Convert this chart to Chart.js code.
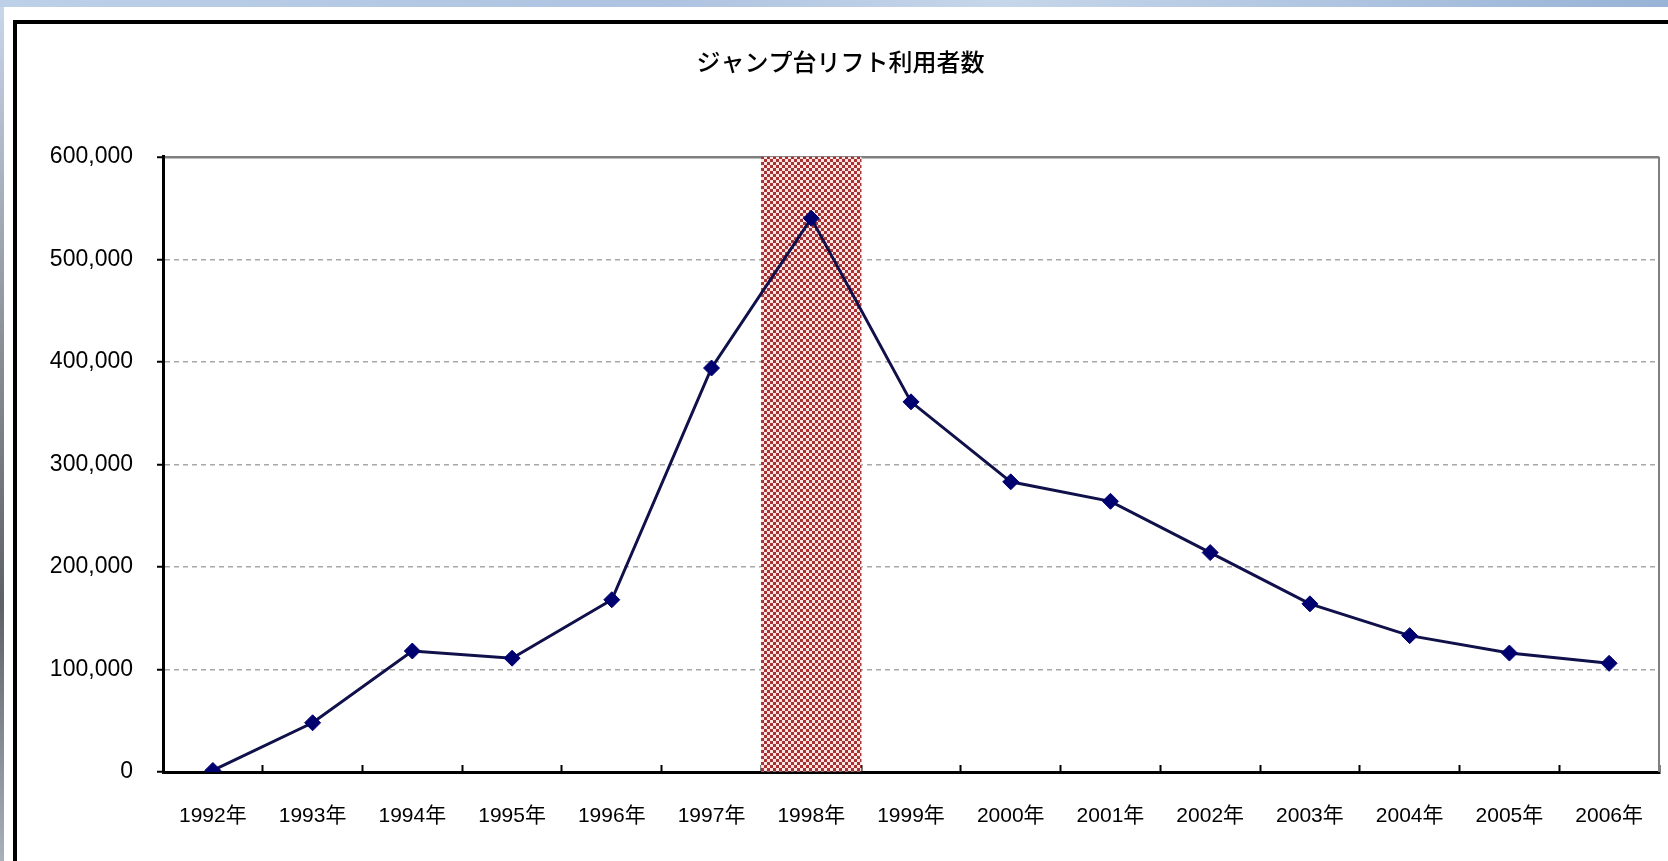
<!DOCTYPE html>
<html>
<head>
<meta charset="utf-8">
<title>ジャンプ台リフト利用者数</title>
<script src="https://cdn.jsdelivr.net/npm/chart.js@4.4.0/dist/chart.umd.min.js"></script>
<style>
	html, body { margin: 0; padding: 0; background: #ffffff; overflow: hidden; }
	#top-strip { position: absolute; left: 0; top: 0; width: 1668px; height: 7px; background: linear-gradient(to right, #bcd0e8, #aec3e0 40%, #c6d6ea 60%, #98b3d6); }
	#left-strip { position: absolute; left: 0; top: 7px; width: 4px; height: 854px; background: linear-gradient(to bottom, #c8d6ea, #8a8f96 40%, #5e6166 70%, #a8b0bc); }
	#frame { position: absolute; left: 13px; top: 20px; width: 1655px; height: 841px; border-top: 4px solid #000; border-left: 4px solid #000; background: #fff; }
	#chart-holder { position: absolute; left: 0; top: 0; width: 1651px; height: 837px; }
</style>
</head>
<body>
<div id="top-strip"></div>
<div id="left-strip"></div>
<div id="frame">
	<div id="chart-holder"><canvas id="chart"></canvas></div>
</div>
<script>

let chartTitle = "ジャンプ台リフト利用者数";

let years = ["1992年", "1993年", "1994年", "1995年", "1996年", "1997年", "1998年", "1999年",
	"2000年", "2001年", "2002年", "2003年", "2004年", "2005年", "2006年"];

let riders = [1500, 48000, 118000, 111000, 168000, 394000, 540000, 361000,
	283000, 264000, 214000, 164000, 133000, 116000, 106000];

let highlightYear = "1998年";

let yTicks = [0, 100000, 200000, 300000, 400000, 500000, 600000];

let yMax = yTicks[yTicks.length - 1];

// band over the highlighted year, full height of the value axis
let bandValues = years.map(function(y) { return y == highlightYear ? yMax : null; });

// small red checker pattern for the band
function makePattern() {

	let tile = document.createElement("canvas");
	tile.width = 6;
	tile.height = 6;
	let c = tile.getContext("2d");
	c.fillStyle = "#ffe4e4";
	c.fillRect(0, 0, 6, 6);
	c.fillStyle = "#a83232";
	c.fillRect(0, 0, 3, 3);
	c.fillRect(3, 3, 3, 3);
	return c.createPattern(tile, "repeat");

}

let plotFrame = {
	id: "plotFrame",
	beforeDatasetsDraw: function(chart) {
		let a = chart.chartArea;
		let ctx = chart.ctx;
		ctx.save();
		ctx.strokeStyle = "#808080";
		ctx.lineWidth = 2;
		ctx.beginPath();
		ctx.moveTo(a.right, a.top);
		ctx.lineTo(a.right, a.bottom);
		ctx.stroke();
		ctx.restore();
	}
};

let canvas = document.getElementById("chart");

let chart = new Chart(canvas, {
	type: "line",
	data: {
		labels: years,
		datasets: [{
			type: "line",
			label: "利用者数",
			data: riders,
			borderColor: "#10104a",
			borderWidth: 3,
			backgroundColor: "#000070",
			pointBackgroundColor: "#000070",
			pointBorderColor: "#000070",
			pointStyle: "rectRot",
			pointRadius: 8,
			pointBorderWidth: 1,
			tension: 0,
			fill: false,
			order: 0
		}, {
			type: "bar",
			label: "band",
			data: bandValues,
			backgroundColor: makePattern(),
			borderWidth: 0,
			barPercentage: 1,
			categoryPercentage: 1,
			order: 1
		}]
	},
	options: {
		responsive: true,
		maintainAspectRatio: false,
		animation: false,
		layout: { padding: { left: 0, right: 4, top: 0, bottom: 0 } },
		plugins: {
			legend: { display: false },
			tooltip: { enabled: false },
			title: {
				display: true,
				text: chartTitle,
				color: "#000",
				font: { family: "'Noto Sans CJK JP', 'DejaVu Sans', sans-serif", size: 24, weight: "500" },
				padding: { top: 23, bottom: 81 }
			}
		},
		scales: {
			x: {
				type: "category",
				offset: true,
				afterFit: function(scale) {
					scale.height = 89;
					// labels fit inside, no extra side padding
					scale.paddingLeft = 0;
					scale.paddingRight = 0;
				},
				grid: {
					offset: true,
					drawOnChartArea: false,
					drawTicks: true,
					tickLength: -7,
					tickColor: "#000",
					tickWidth: 2
				},
				border: { display: true, color: "#000", width: 3 },
				ticks: {
					color: "#000",
					padding: 39,
					maxRotation: 0,
					autoSkip: false,
					font: { family: "'Liberation Sans', 'Noto Sans CJK JP', sans-serif", size: 21 }
				}
			},
			y: {
				min: 0,
				max: yMax,
				afterFit: function(scale) { scale.width = 146; },
				afterBuildTicks: function(scale) {
					scale.ticks = yTicks.map(function(v) { return { value: v }; });
				},
				grid: {
					color: function(ctx) { return ctx.tick && ctx.tick.value == yMax ? "#808080" : "#a8a8a8"; },
					lineWidth: function(ctx) { return ctx.tick && ctx.tick.value == yMax ? 2.5 : 1.5; },
					tickLength: 6,
					tickColor: "#000",
					tickWidth: 2,
					tickBorderDash: []
				},
				border: {
					display: true,
					color: "#000",
					width: 3,
					dash: function(ctx) { return ctx.tick && ctx.tick.value == yMax ? [] : [5, 4]; }
				},
				ticks: {
					color: "#000",
					padding: 24,
					font: { family: "'Liberation Sans', sans-serif", size: 23 },
					callback: function(v) { return Number(v).toLocaleString("en-US"); }
				}
			}
		}
	},
	plugins: [plotFrame]
});

</script>
</body>
</html>
